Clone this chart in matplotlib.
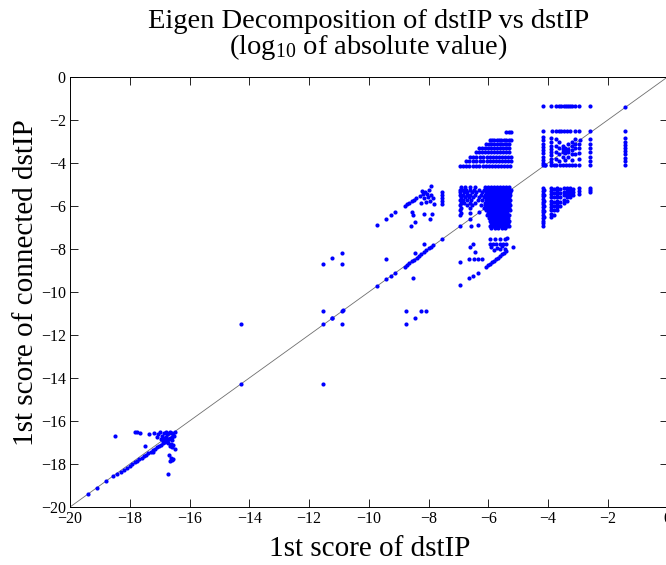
import matplotlib
matplotlib.use("Agg")
import matplotlib.pyplot as plt

plt.rcParams["font.family"] = ["Liberation Serif", "DejaVu Serif"]
plt.rcParams["mathtext.fontset"] = "custom"
plt.rcParams["mathtext.rm"] = "Liberation Serif"
plt.rcParams["mathtext.it"] = "Liberation Serif:italic"

# ---- data: log10 |score| pairs, stored as rows (y, [x values]) or (x, [y values]) ----

# points lying on the identity line
diag_pts = [-19.4, -19.1, -14.27, -11.23, -9.72, -9.41, -9.24, -9.11,
            -7.54, -6.94, -6.62, -6.3, -6.05, -4.1, -3.45, -2.94, -1.41]

# low cluster near (-17, -17)
low_x = [-18.78, -18.55, -18.42, -18.3, -18.2, -18.1, -18.0, -17.92, -17.84, -17.76,
         -17.68, -17.6, -17.52, -17.45, -17.38, -17.3, -17.23, -17.16, -17.09, -17.02,
         -16.95, -16.88, -16.82, -16.76, -16.7, -16.64, -16.58,
         -18.5, -17.83, -17.75, -17.66, -17.35, -17.2, -17.05, -16.98, -16.93, -16.85,
         -16.8, -16.75, -16.7, -16.65, -16.6, -16.55, -16.5, -16.88, -16.78, -16.68,
         -16.6, -16.52, -16.9, -16.72, -16.62, -16.55, -16.66, -16.58, -16.5, -16.7,
         -16.62, -16.55, -16.65, -16.58, -16.73, -17.21, -17.49, -17.1, -16.95, -16.8]
low_y = [-18.8, -18.58, -18.46, -18.35, -18.26, -18.17, -18.08, -18.0, -17.93, -17.86,
         -17.78, -17.71, -17.64, -17.57, -17.5, -17.43, -17.37, -17.3, -17.23, -17.17,
         -17.1, -17.03, -16.97, -16.91, -16.85, -16.79, -16.73,
         -16.69, -16.53, -16.5, -16.55, -16.6, -16.55, -16.62, -16.5, -16.7, -16.58,
         -16.5, -16.62, -16.55, -16.5, -16.58, -16.66, -16.52, -16.8, -16.75, -16.85,
         -16.9, -16.72, -16.95, -17.0, -17.05, -17.1, -17.15, -17.2, -17.3, -17.6,
         -17.7, -17.78, -17.85, -17.8, -18.47, -17.46, -17.15, -16.75, -16.85, -16.9]

# isolated mid-range points
mid_x = [-14.27, -11.53, -11.53, -11.53, -11.23, -10.89, -10.89, -10.86, -11.53, -11.23,
         -10.89, -10.89, -8.74, -8.74, -8.46, -8.24, -8.09,
         -9.41, -8.8, -8.72, -8.64, -8.56, -8.48, -8.4, -8.32, -8.24, -8.16, -8.08, -8.0,
         -7.92, -7.85, -8.52, -8.46, -8.16]
mid_y = [-11.49, -14.28, -11.49, -10.87, -11.19, -10.87, -11.49, -10.83, -8.7, -8.43,
         -8.7, -8.17, -10.87, -11.49, -11.19, -10.87, -10.87,
         -8.48, -8.82, -8.75, -8.66, -8.56, -8.5, -8.41, -8.33, -8.24, -8.15, -8.05, -7.97,
         -7.9, -7.81, -9.36, -8.2, -7.77]

# group near x = -8.5, y = -6
f_x = [-9.72, -9.41, -9.24, -9.11, -8.8, -8.72, -8.64, -8.56, -8.48, -8.41,
       -8.58, -8.54, -8.52, -8.46, -8.16, -7.94, -7.87, -8.3, -8.22, -8.15, -8.1,
       -8.05, -7.98, -7.93, -7.9, -7.85, -7.8, -8.25, -8.2, -8.12, -8.02, -7.96,
       -7.55, -7.55, -7.55, -7.55, -7.55]
f_y = [-6.9, -6.6, -6.44, -6.3, -5.99, -5.92, -5.84, -5.77, -5.7, -5.62,
       -6.92, -6.26, -6.42, -6.73, -6.39, -6.6, -6.39, -5.55, -5.3, -5.62, -5.82,
       -5.42, -5.25, -5.09, -5.5, -5.65, -5.9, -5.86, -5.45, -5.35, -5.6, -5.75,
       -5.35, -5.49, -5.62, -5.75, -5.9]

# triangular block x in [-7, -5.2], y in [-4.1, -2.5]
c_rows = [
    (-2.54, [-5.39, -5.32, -5.25]),
    (-2.93, [-5.95, -5.87, -5.8, -5.72, -5.64, -5.56, -5.48, -5.4, -5.32, -5.25]),
    (-3.12, [-6.07, -5.98, -5.9, -5.8, -5.7, -5.62, -5.53, -5.45, -5.37, -5.29]),
    (-3.32, [-6.3, -6.2, -6.1, -6.0, -5.9, -5.8, -5.7, -5.6, -5.5, -5.4, -5.3]),
    (-3.5, [-6.4, -6.3, -6.2, -6.1, -6.0, -5.9, -5.8, -5.7, -5.6, -5.5, -5.4, -5.3]),
    (-3.71, [-6.62, -6.5, -6.4, -6.28, -6.16, -6.05, -5.95, -5.85, -5.75, -5.65,
             -5.55, -5.45, -5.35, -5.25]),
    (-3.89, [-6.75, -6.64, -6.52, -6.4, -6.28, -6.16, -6.05, -5.95, -5.85, -5.75,
             -5.65, -5.55, -5.45, -5.35, -5.25]),
    (-4.12, [-6.96, -6.85, -6.74, -6.63, -6.52, -6.41, -6.3, -6.19, -6.08, -5.97,
             -5.87, -5.77, -5.67, -5.57, -5.47, -5.37, -5.28]),
]

# dense block x in [-7, -5.2], y in [-5.1, -7.0]
d_rows = [
    (-5.12, [-6.9, -6.78, -6.62, -6.45, -6.12, -6.0, -5.9, -5.8, -5.7, -5.6, -5.5, -5.4, -5.3]),
    (-5.24, [-6.96, -6.86, -6.74, -6.6, -6.48, -6.3, -6.15, -6.05, -5.96, -5.88, -5.8,
             -5.72, -5.64, -5.56, -5.48, -5.4, -5.32, -5.25]),
    (-5.36, [-6.93, -6.82, -6.7, -6.55, -6.4, -6.2, -6.08, -5.98, -5.9, -5.82, -5.74,
             -5.66, -5.58, -5.5, -5.42, -5.34, -5.27]),
    (-5.48, [-6.96, -6.85, -6.72, -6.6, -6.45, -6.25, -6.1, -6.0, -5.92, -5.84, -5.76,
             -5.68, -5.6, -5.52, -5.44, -5.36, -5.28]),
    (-5.6, [-6.9, -6.78, -6.65, -6.5, -6.3, -6.15, -6.04, -5.95, -5.87, -5.79, -5.71,
            -5.63, -5.55, -5.47, -5.39, -5.31]),
    (-5.72, [-6.96, -6.84, -6.7, -6.58, -6.35, -6.2, -6.08, -5.98, -5.9, -5.82, -5.74,
             -5.66, -5.58, -5.5, -5.42, -5.34, -5.26]),
    (-5.84, [-6.92, -6.8, -6.62, -6.45, -6.12, -6.02, -5.93, -5.85, -5.77, -5.69,
             -5.61, -5.53, -5.45, -5.37, -5.29]),
    (-5.96, [-6.96, -6.72, -6.55, -6.25, -6.1, -6.0, -5.92, -5.84, -5.76, -5.68, -5.6,
             -5.52, -5.44, -5.36, -5.28]),
    (-6.08, [-6.9, -6.6, -6.15, -6.04, -5.95, -5.87, -5.79, -5.71, -5.63, -5.55,
             -5.47, -5.39, -5.31]),
    (-6.2, [-6.96, -6.08, -5.98, -5.9, -5.82, -5.74, -5.66, -5.58, -5.5, -5.42, -5.34, -5.26]),
    (-6.32, [-6.92, -6.6, -6.0, -5.92, -5.84, -5.76, -5.68, -5.6, -5.52, -5.44, -5.36]),
    (-6.44, [-6.96, -6.05, -5.95, -5.86, -5.78, -5.7, -5.62, -5.54, -5.46, -5.38, -5.3]),
    (-6.56, [-5.98, -5.9, -5.82, -5.74, -5.66, -5.58, -5.5, -5.42, -5.34]),
    (-6.68, [-5.95, -5.86, -5.78, -5.7, -5.62, -5.54, -5.46, -5.38, -5.3]),
    (-6.8, [-5.92, -5.82, -5.74, -5.66, -5.58, -5.5, -5.42, -5.35]),
    (-6.92, [-5.95, -5.85, -5.75, -5.65, -5.55, -5.45, -5.37, -5.3]),
    (-7.02, [-5.9, -5.78, -5.66, -5.55, -5.45]),
]

# scattered group below the dense block
h_x = [-6.96, -6.65, -6.51, -6.34, -6.96, -6.65, -6.48, -6.34, -6.22, -6.62, -6.45, -6.51,
       -6.07, -6.0, -5.93, -5.87, -5.8, -5.73, -5.67, -5.6, -5.53, -5.47, -5.4,
       -5.95, -5.79, -5.62, -5.45, -5.38, -5.95, -5.85, -5.75, -5.6, -5.5, -5.4,
       -5.9, -5.7, -5.55, -5.45, -5.8, -5.6, -5.17, -6.57, -6.35]
h_y = [-9.69, -9.36, -9.25, -9.1, -8.59, -8.48, -8.48, -8.48, -8.48, -7.89, -8.13, -7.77,
       -8.82, -8.75, -8.68, -8.6, -8.55, -8.47, -8.4, -8.33, -8.25, -8.18, -8.1,
       -7.52, -7.52, -7.52, -7.52, -7.5, -7.75, -7.75, -7.75, -7.75, -7.75, -7.75,
       -7.9, -7.95, -7.88, -8.0, -8.05, -8.02, -7.89, -6.95, -6.9]

# grid block near x = -3.5, y = -1.4 .. -4.1 (rows)
a_rows = [
    (-1.35, [-4.17, -3.89, -3.72, -3.62, -3.55, -3.48, -3.4, -3.33, -3.25, -3.18, -3.1,
             -2.95, -2.61]),
    (-2.49, [-4.17, -3.86, -3.72, -3.62, -3.55, -3.45, -3.35, -3.25, -3.1, -2.95,
             -2.61, -1.41]),
    (-4.08, [-4.17, -4.1, -3.89, -3.8, -3.72, -3.6, -3.5, -3.4, -3.3, -3.2, -3.1,
             -2.95, -2.61, -1.41]),
]
# same block, columns (x, [y values])
a_cols = [
    (-1.41, [-2.85, -3.0, -3.15, -3.3, -3.45, -3.6, -3.75, -3.9]),
    (-2.61, [-2.9, -3.1, -3.3, -3.5, -3.7, -3.9]),
    (-4.17, [-2.8, -2.95, -3.1, -3.25, -3.4, -3.55, -3.7, -3.85, -4.0]),
    (-3.89, [-2.85, -3.0, -3.2, -3.35, -3.5, -3.65, -3.8, -3.95]),
    (-3.72, [-2.9, -3.2, -3.5, -3.8]),
    (-3.62, [-3.0, -3.3, -3.6, -3.9]),
    (-3.5, [-3.2, -3.35, -3.5, -3.7]),
    (-3.42, [-3.3, -3.45, -3.55, -3.85]),
    (-3.33, [-3.1, -3.35, -3.5, -3.7]),
    (-3.2, [-3.0, -3.2, -3.4, -3.6, -3.85]),
    (-3.1, [-2.9, -3.1, -3.3, -3.6]),
    (-2.95, [-3.1, -3.3, -3.55, -3.8]),
]

# grid block near x = -3.5, y = -5.2 .. -6.9 (columns)
b_cols = [
    (-4.17, [-5.17, -5.3, -5.42, -5.55, -5.68, -5.8, -5.92, -6.05, -6.18, -6.3, -6.42,
             -6.55, -6.68, -6.8, -6.92]),
    (-4.12, [-5.25, -5.5, -5.75, -6.0, -6.25, -6.5]),
    (-3.89, [-5.17, -5.3, -5.45, -5.6, -5.75, -5.9, -6.05, -6.2, -6.35, -6.5]),
    (-3.8, [-5.2, -5.4, -5.6, -5.8, -6.0, -6.2, -6.4]),
    (-3.7, [-5.17, -5.3, -5.45, -5.6, -5.75, -5.9, -6.05, -6.2]),
    (-3.6, [-5.2, -5.4, -5.6, -5.8, -6.0]),
    (-3.45, [-5.17, -5.35, -5.5, -5.7, -5.85]),
    (-3.37, [-5.17, -5.3, -5.45, -5.6, -5.75]),
    (-3.25, [-5.17, -5.3, -5.45, -5.6]),
    (-3.15, [-5.2, -5.35, -5.5]),
    (-2.95, [-5.17, -5.3, -5.45]),
    (-2.61, [-5.17, -5.25, -5.33]),
]

# ---- assemble point arrays ----
xs, ys = [], []
xs += diag_pts; ys += diag_pts
xs += low_x; ys += low_y
xs += mid_x; ys += mid_y
xs += f_x; ys += f_y
xs += h_x; ys += h_y
for yv, row in c_rows + d_rows + a_rows:
    xs += row; ys += [yv] * len(row)
for xv, col in a_cols + b_cols:
    xs += [xv] * len(col); ys += col

# ---- figure ----
fig = plt.figure(figsize=(6.66, 5.65), dpi=100)
ax = fig.add_axes([70 / 666, 1 - 507 / 565, 597.5 / 666, 430 / 565])

ax.plot([-20, 0], [-20, 0], color="#6e6e6e", lw=0.6, zorder=1)
ax.scatter(xs, ys, s=9, color="blue", marker="o", linewidths=0, zorder=2)

ax.set_xlim(-20, 0)
ax.set_ylim(-20, 0)
ticks = list(range(-20, 1, 2))
ax.set_xticks(ticks)
ax.set_yticks(ticks)
ax.tick_params(direction="in", length=6, width=0.6, labelsize=11.5, pad=3,
               top=True, right=True)
for s in ax.spines.values():
    s.set_linewidth(0.7)

ax.set_xlabel("1st score of dstIP", fontsize=21)
ax.xaxis.set_label_coords(370 / 666, 1 - 556 / 565, transform=fig.transFigure)
ax.xaxis.label.set_va("baseline")
ax.set_ylabel("1st score of connected dstIP", fontsize=21)
ax.yaxis.set_label_coords(26 / 666, 0.5, transform=fig.transFigure)
ax.yaxis.label.set_va("center")

cx = (70 + 667.5) / 2 / 666
fig.text(cx, 1 - 28 / 565, "Eigen Decomposition of dstIP vs dstIP",
         fontsize=20.5, ha="center", va="baseline")
fig.text(cx, 1 - 54 / 565, "(log$_{10}$ of absolute value)",
         fontsize=20.5, ha="center", va="baseline")

fig.savefig("out.png", dpi=100)
